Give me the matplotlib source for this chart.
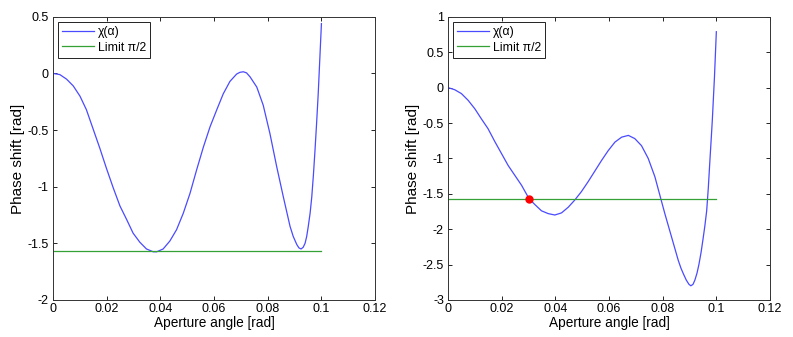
import numpy as np
import matplotlib
matplotlib.use("Agg")
import matplotlib.pyplot as plt

# Left panel: phase shift chi(alpha)
alpha_left = [0.0, 0.0025, 0.005, 0.0075, 0.01, 0.0124, 0.0149, 0.0174, 0.0199,
              0.0224, 0.0249, 0.0274, 0.0298, 0.0323, 0.0348, 0.0373, 0.0386,
              0.041, 0.0435, 0.046, 0.0485, 0.051, 0.0535, 0.056, 0.0585,
              0.061, 0.0634, 0.0659, 0.0684, 0.0696, 0.0709, 0.0721, 0.0734,
              0.0759, 0.0783, 0.0808, 0.0833, 0.0858, 0.0883, 0.0895, 0.0908,
              0.0916, 0.0924, 0.0932, 0.0939, 0.0945, 0.0951, 0.0958, 0.0964,
              0.097, 0.0976, 0.0982, 0.0988, 0.0994, 0.1]
chi_left = [0.0, -0.01, -0.05, -0.11, -0.2, -0.32, -0.49, -0.66, -0.84,
            -1.01, -1.17, -1.29, -1.41, -1.49, -1.55, -1.575, -1.575,
            -1.55, -1.48, -1.38, -1.235, -1.06, -0.85, -0.65, -0.47,
            -0.32, -0.18, -0.07, -0.005, 0.01, 0.015, 0.005, -0.03,
            -0.12, -0.28, -0.53, -0.82, -1.09, -1.35, -1.44, -1.51,
            -1.54, -1.55, -1.535, -1.5, -1.44, -1.35, -1.23, -1.09,
            -0.9, -0.68, -0.44, -0.18, 0.13, 0.44]

# Right panel
alpha_right = [0.0, 0.0025, 0.005, 0.0075, 0.01, 0.0124, 0.0149, 0.0174, 0.0199,
               0.0224, 0.0249, 0.0274, 0.0302, 0.0323, 0.0348, 0.0373, 0.0398,
               0.0423, 0.0448, 0.0472, 0.0497, 0.0522, 0.0547, 0.0572, 0.0597,
               0.0622, 0.0647, 0.0672, 0.0696, 0.0721, 0.0746, 0.0771, 0.0793,
               0.0808, 0.0833, 0.0858, 0.0868, 0.0877, 0.0888, 0.0898, 0.0905,
               0.0913, 0.092, 0.0928, 0.0935, 0.0943, 0.095, 0.0957, 0.0964,
               0.097, 0.0976, 0.098, 0.0985, 0.0993, 0.1]
chi_right = [0.0, -0.03, -0.085, -0.18, -0.3, -0.44, -0.58, -0.76, -0.93,
             -1.1, -1.24, -1.38, -1.57, -1.65, -1.74, -1.78, -1.8,
             -1.77, -1.69, -1.59, -1.47, -1.33, -1.18, -1.03, -0.89,
             -0.77, -0.7, -0.675, -0.72, -0.82, -1.0, -1.26, -1.57,
             -1.78, -2.11, -2.44, -2.55, -2.63, -2.72, -2.78, -2.8,
             -2.78, -2.72, -2.62, -2.5, -2.33, -2.15, -1.96, -1.74,
             -1.42, -1.03, -0.78, -0.46, 0.15, 0.79]

limit_x = [0.0, 0.1]
limit_val = -np.pi / 2
marker_pt = (0.0302, -np.pi / 2)

plt.rcParams['font.family'] = ['Liberation Sans', 'DejaVu Sans']

fig = plt.figure(figsize=(7.93, 3.37), dpi=100)
ax1 = fig.add_axes([0.067, 0.11, 0.406, 0.84])
ax2 = fig.add_axes([0.565, 0.11, 0.406, 0.84])

blue = '#4a4aff'
green = '#35a035'


def style(ax, ylim, yticks):
    ax.set_xlim(0, 0.12)
    ax.set_ylim(*ylim)
    ax.set_xticks([0, 0.02, 0.04, 0.06, 0.08, 0.1, 0.12])
    ax.set_xticklabels(['0', '0.02', '0.04', '0.06', '0.08', '0.1', '0.12'])
    ax.set_yticks(yticks)
    ax.set_yticklabels([f'{t:g}' for t in yticks])
    ax.tick_params(direction='in', top=True, right=True, labelsize=9,
                   length=3, width=0.6)
    ax.tick_params(axis='x', pad=2)
    ax.tick_params(axis='y', pad=3)
    for s in ax.spines.values():
        s.set_linewidth(0.7)
        s.set_color('#333333')
    ax.set_xlabel('Aperture angle [rad]', fontsize=9.8, labelpad=1)
    ax.set_ylabel('Phase shift [rad]', fontsize=11, labelpad=2)
    leg = ax.legend(loc='upper left', fontsize=8.8, fancybox=False,
                    edgecolor='#222222', framealpha=1, handlelength=2.6,
                    borderaxespad=0.4, labelspacing=0.3, handletextpad=0.3,
                    borderpad=0.35)
    leg.get_frame().set_linewidth(0.7)


ax1.plot(alpha_left, chi_left, color=blue, lw=0.9, label='χ(α)')
ax1.plot(limit_x, [limit_val, limit_val], color=green, lw=0.9, label='Limit π/2')
style(ax1, (-2, 0.5), [-2, -1.5, -1, -0.5, 0, 0.5])

ax2.plot(alpha_right, chi_right, color=blue, lw=0.9, label='χ(α)')
ax2.plot(limit_x, [limit_val, limit_val], color=green, lw=0.9, label='Limit π/2')
ax2.plot([marker_pt[0]], [marker_pt[1]], 'o', color='red', ms=5)
style(ax2, (-3, 1), [-3, -2.5, -2, -1.5, -1, -0.5, 0, 0.5, 1])

fig.savefig('out.png', dpi=100)
